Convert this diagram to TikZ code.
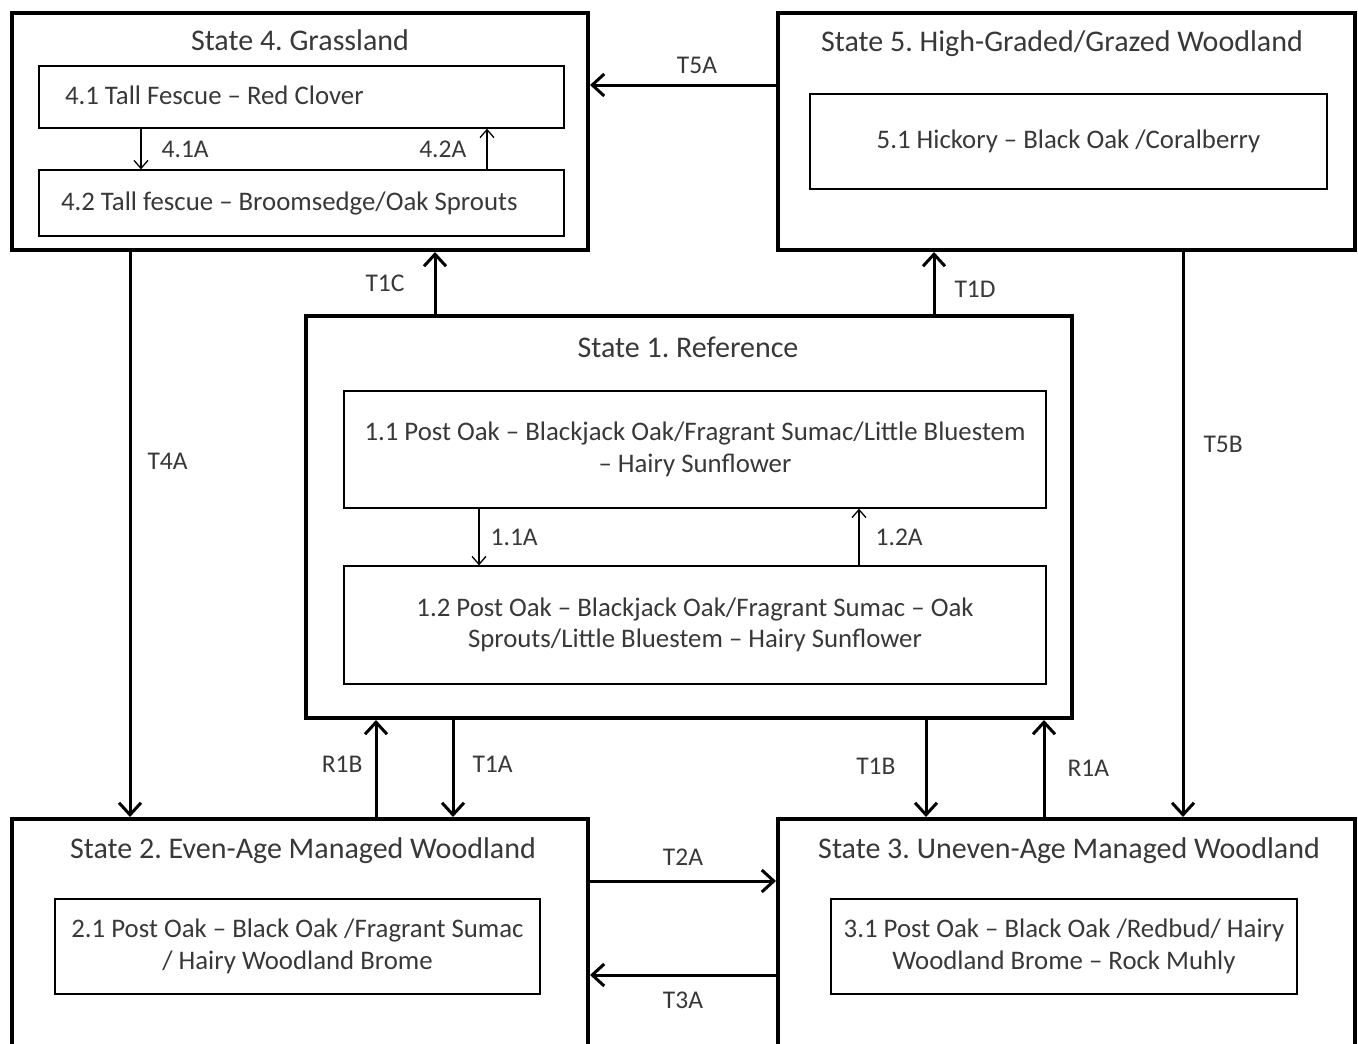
\documentclass[tikz,border=0pt]{standalone}
\usepackage{fontspec}
\setmainfont{Carlito}
\usetikzlibrary{arrows.meta, positioning, calc}
\definecolor{txtgray}{HTML}{383838}
\frenchspacing

\begin{document}
\begin{tikzpicture}[
    x=1pt, y=-1pt,
    >={Straight Barb[length=12pt,width=22pt]},
    font=\fontsize{26.8}{31.5}\selectfont,
    state/.style={
        draw,
        line width=4pt,
        minimum width=576pt,
        minimum height=237pt,
        inner sep=0pt
    },
    title/.style={
        text=txtgray,
        font=\fontsize{30}{36}\selectfont
    },
    phase/.style={
        draw,
        line width=1.3pt,
        align=center,
        text=txtgray,
        inner sep=0pt
    },
    trans/.style={
        ->,
        line width=3pt
    },
    pathway/.style={
        -{Straight Barb[length=8pt,width=14pt]},
        line width=1.3pt
    },
    lbl/.style={
        text=txtgray,
        inner sep=2pt,
        font=\fontsize{25.5}{30}\selectfont
    }
]
\useasboundingbox (0,0) rectangle (1358,1044);
\clip (0,0) rectangle (1358,1044);

% states
\node[state] (s4) at (300,131.5) {};
\node[state, minimum width=577pt] (s5) at (1066.5,131.5) {};
\node[state, minimum width=766pt, minimum height=402pt] (s1) at (689,517) {};
\node[state, minimum height=262pt] (s2) at (300,950) {};
\node[state, minimum width=577pt, minimum height=262pt] (s3) at (1066.5,950) {};

\node[title] (t4) at (300,40) {State 4. Grassland};
\node[title] (t5) at (1062,44) {State 5. High-Graded/Grazed Woodland};
\node[title] (t1) at (688,347) {State 1. Reference};
\node[title] (t2) at (303,851) {State 2. Even-Age Managed Woodland};
\node[title] (t3) at (1069,851) {State 3. Uneven-Age Managed Woodland};

% community phases
\node[phase, minimum width=525pt, minimum height=62pt] (p41) at (301.5,97) {\raisebox{3pt}{\makebox[473pt][l]{4.1 Tall Fescue – Red Clover}}};
\node[phase, minimum width=525pt, minimum height=66pt] (p42) at (301.5,203) {\raisebox{-2pt}{\makebox[481pt][l]{4.2 Tall fescue – Broomsedge/Oak Sprouts}}};
\node[phase, minimum width=517pt, minimum height=95pt] (p51) at (1068.5,141.5) {5.1 Hickory – Black Oak /Coralberry};
\node[phase, minimum width=702pt, minimum height=117pt] (p11) at (695,449.5) {1.1 Post Oak – Blackjack Oak/Fragrant Sumac/Little Bluestem\\ – Hairy Sunflower};
\node[phase, minimum width=702pt, minimum height=118pt] (p12) at (695,625) {1.2 Post Oak – Blackjack Oak/Fragrant Sumac – Oak\\ Sprouts/Little Bluestem – Hairy Sunflower};
\node[phase, minimum width=485pt, minimum height=95pt] (p21) at (297.5,946.5) {2.1 Post Oak – Black Oak /Fragrant Sumac\\ / Hairy Woodland Brome};
\node[phase, minimum width=466pt, minimum height=95pt] (p31) at (1064,946.5) {3.1 Post Oak – Black Oak /Redbud/ Hairy\\ Woodland Brome – Rock Muhly};

% transitions between states
\draw[trans] ([yshift=46.5pt]s5.west) -- ([yshift=46.5pt]s4.east) node[lbl, midway, above=8pt, xshift=14pt] {T5A};
\draw[trans] ([xshift=-254pt]s1.north) -- ([xshift=-254pt]s1.north |- s4.south) node[lbl, midway, left=27pt] {T1C};
\draw[trans] ([xshift=245pt]s1.north) -- ([xshift=245pt]s1.north |- s5.south) node[lbl, midway, right=17pt, yshift=-6pt] {T1D};
\draw[trans] ([xshift=-170pt]s4.south) -- ([xshift=-170pt]s2.north) node[lbl, pos=0.37, right=14pt] {T4A};
\draw[trans] ([xshift=116.5pt]s5.south) -- ([xshift=116.5pt]s3.north) node[lbl, pos=0.34, right=17pt] {T5B};
\draw[trans] ([xshift=76pt]s2.north) -- ([xshift=76pt]s2.north |- s1.south) node[lbl, midway, left=10pt, yshift=4pt] {R1B};
\draw[trans] ([xshift=-236pt]s1.south) -- ([xshift=-236pt]s1.south |- s2.north) node[lbl, midway, right=16pt, yshift=4pt] {T1A};
\draw[trans] ([xshift=237pt]s1.south) -- ([xshift=237pt]s1.south |- s3.north) node[lbl, midway, left=27pt, yshift=2pt] {T1B};
\draw[trans] ([xshift=-22.5pt]s3.north) -- ([xshift=-22.5pt]s3.north |- s1.south) node[lbl, midway, right=20pt] {R1A};
\draw[trans] ([yshift=69pt]s2.east) -- ([yshift=69pt]s3.west) node[lbl, midway, above=12pt] {T2A};
\draw[trans] ([yshift=-25pt]s3.west) -- ([yshift=-25pt]s2.east) node[lbl, midway, below=13pt] {T3A};

% pathways within states
\draw[pathway] ([xshift=-160.5pt]p41.south) -- ([xshift=-160.5pt]p42.north) node[lbl, midway, right=18pt] {4.1A};
\draw[pathway] ([xshift=185.5pt]p42.north) -- ([xshift=185.5pt]p41.south) node[lbl, midway, left=18pt] {4.2A};
\draw[pathway] ([xshift=-216pt]p11.south) -- ([xshift=-216pt]p12.north) node[lbl, midway, right=9pt] {1.1A};
\draw[pathway] ([xshift=164pt]p12.north) -- ([xshift=164pt]p11.south) node[lbl, midway, right=14pt] {1.2A};
\end{tikzpicture}
\end{document}
